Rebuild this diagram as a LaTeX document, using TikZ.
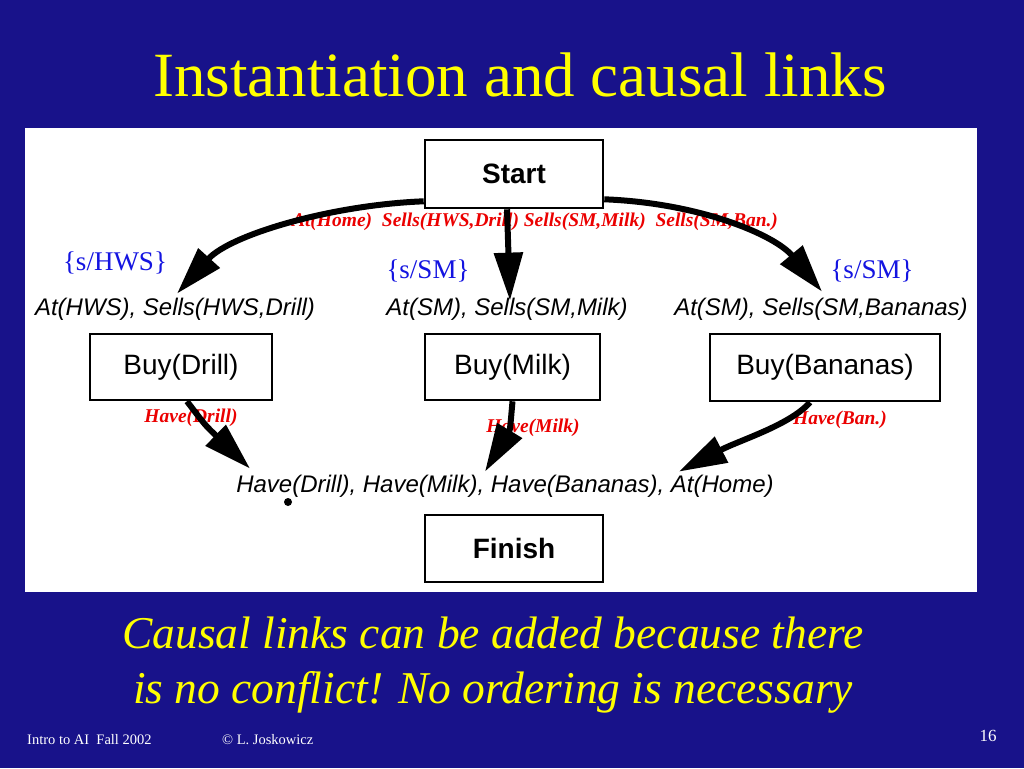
\documentclass[tikz,border=0pt]{standalone}
\usepackage{fontspec}
\setmainfont{Liberation Serif}
\newfontfamily\arial{Liberation Sans}
\usetikzlibrary{arrows.meta,calc}
\definecolor{bg}{RGB}{24,18,138}
\definecolor{ttl}{RGB}{255,255,0}
\definecolor{lblred}{RGB}{235,0,0}
\definecolor{lblblue}{RGB}{20,20,225}
\begin{document}
\begin{tikzpicture}[x=1pt,y=-1pt,
  box/.style={draw,line width=2.6pt,fill=white,inner sep=0pt,font=\arial\fontsize{28}{30}\selectfont},
  cond/.style={inner sep=1pt,font=\arial\itshape\fontsize{24}{26}\selectfont},
  redlbl/.style={inner sep=0pt,text=lblred,font=\bfseries\itshape\fontsize{19.5}{21}\selectfont},
  bluelbl/.style={inner sep=0pt,text=lblblue,font=\fontsize{27}{29}\selectfont},
  link/.style={line width=6pt,-{Triangle[length=48pt,width=28pt]}},
  foot/.style={inner sep=0pt,text=white,font=\fontsize{14.5}{16}\selectfont}]
\useasboundingbox (0,0) rectangle (1024,768);
\fill[bg] (0,0) rectangle (1024,768);
\fill[white] (25,128) rectangle (977,592);
% title
\node[text=ttl,font=\fontsize{63}{70}\selectfont] (title) at (520,75) {Instantiation and causal links};
% step boxes
\node[box,minimum width=178,minimum height=68] (start) at (514,174) {\bfseries Start};
\node[box,minimum width=182,minimum height=66] (drill) at (181,367) {Buy(Drill)};
\node[box,minimum width=175,minimum height=66] (milk) at (512.5,367) {Buy(Milk)};
\node[box,minimum width=230,minimum height=67] (ban) at (825,367.5) {Buy(Bananas)};
\node[box,minimum width=178,minimum height=67] (finish) at (514,548.5) {\bfseries Finish};
% preconditions
\node[cond] (preD) at (175,309) {At(HWS), Sells(HWS,Drill)};
\node[cond] (preM) at (507,309) {At(SM), Sells(SM,Milk)};
\node[cond] (preB) at (821,309) {At(SM), Sells(SM,Bananas)};
\node[cond] (goal) at (505,486) {Have(Drill), Have(Milk), Have(Bananas), At(Home)};
% red labels
\node[redlbl] (eff) at (535,222) {At(Home)\ \ Sells(HWS,Drill) Sells(SM,Milk)\ \ Sells(SM,Ban.)};
\node[redlbl] (haveD) at (191,418) {Have(Drill)};
\node[redlbl] (haveM) at (533,428) {Have(Milk)};
\node[redlbl] (haveB) at (840,420) {Have(Ban.)};
% blue labels
\node[bluelbl] (sHWS) at (115,263) {\{s/HWS\}};
\node[bluelbl] (sSM1) at (428,271) {\{s/SM\}};
\node[bluelbl] (sSM2) at (872,271) {\{s/SM\}};
% causal links
\draw[link] ($(start.south west)+(0,-8)$) .. controls (330,205) and (230,235) .. ($(preD.north)+(2,-3)$);
\draw[link] (start.south -| preM.north) -- ($(start.south -| preM.north)!1!(preM.north)+(3,4)$);
\draw[link] ($(start.south east)+(0,-10)$) .. controls (700,203) and (775,235) .. ($(preB.north)+(1,-5)$);
\draw[link] ($(drill.south)+(6,0)$) .. controls (205,425) .. ($(goal.north west)+(15,-5)$);
\draw[link] (milk.south) .. controls (510,430) .. ($(goal.north)+(-20,-2)$);
\draw[link] ($(ban.south)+(-15,0)$) .. controls (790,425) and (740,440) .. ($(goal.north east)+(-96,-2)$);
% stray dot
\fill (288,502) circle (4);
% bottom text
\node[text=ttl,font=\itshape\fontsize{45.5}{55}\selectfont,align=center] (note) at (493,665)
  {Causal links can be added because there\\is no conflict! No ordering is necessary};
% footer
\node[foot,anchor=west] (f1) at (27,740) {Intro to AI\ \ Fall 2002};
\node[foot,anchor=west] (f2) at (222,740) {\textcopyright\ L. Joskowicz};
\node[inner sep=0pt,text=white,font=\fontsize{17}{19}\selectfont] (pg) at (988,736) {16};
\end{tikzpicture}
\end{document}
